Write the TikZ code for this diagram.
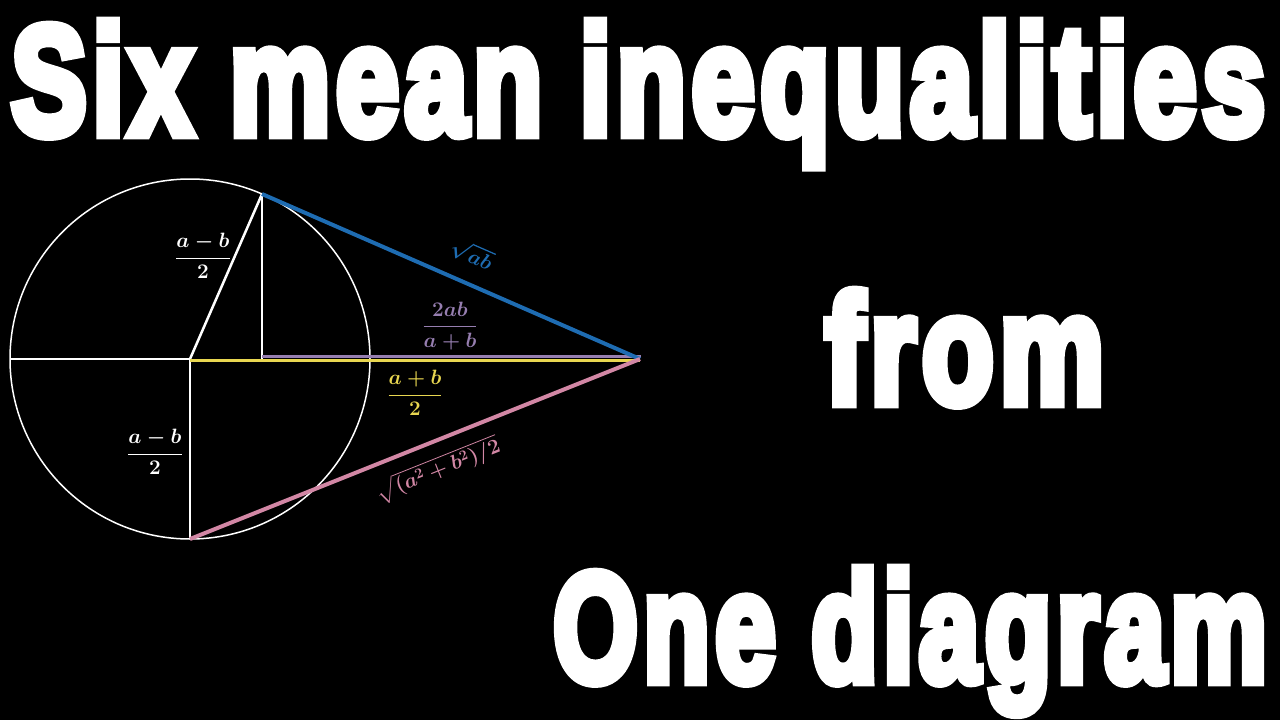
\documentclass[tikz,border=0pt]{standalone}
\usepackage{fontspec}
\usepackage{amsmath}
\usepackage{graphicx}
\newfontfamily\impactfont{Liberation Sans Bold}[FakeBold=7,LetterSpace=5]
\definecolor{geoblue}{RGB}{30,108,178}
\definecolor{geopurple}{RGB}{150,126,176}
\definecolor{geoyellow}{RGB}{232,214,80}
\definecolor{geopink}{RGB}{210,135,165}
\begin{document}
\begin{tikzpicture}[x=1pt,y=-1pt,
  titletext/.style={inner sep=0pt, text=white},
  mathlbl/.style={inner sep=0pt, font=\fontsize{20}{24}\selectfont\boldmath},
  whiteline/.style={draw=white, line width=2.5pt},
  colline/.style={line width=4pt}]
\fill[black] (0,0) rectangle (1280,720);
\useasboundingbox (0,0) rectangle (1280,720);

% titles
\node[titletext, anchor=base west] (title) at (11,134)
  {\resizebox{1254pt}{112pt}{\impactfont\fontsize{100}{100}\selectfont Six mean inequalities}};
\node[titletext, anchor=base west] (from) at (825,403)
  {\resizebox{279pt}{112pt}{\impactfont\fontsize{100}{100}\selectfont from}};
\node[titletext, anchor=base west] (one) at (553,681)
  {\resizebox{714pt}{112pt}{\impactfont\fontsize{100}{100}\selectfont One diagram}};

% geometry
\coordinate (C) at (190,359);
\coordinate (L) at (10,359);
\coordinate (T) at (262,194);
\coordinate (F) at (262,359);
\coordinate (Fp) at (262,356.5);
\coordinate (P) at (640,359);
\coordinate (Pp) at (641,356.5);
\coordinate (Py) at (640,360.5);
\coordinate (Cy) at (190,360.5);
\coordinate (B) at (190,539);

\draw[white, line width=1.5pt] (C) circle[radius=180];
\draw[whiteline] (L) -- (C);
\draw[whiteline] (C) -- (T);
\draw[whiteline] (T) -- (F);
\draw[whiteline] (C) -- (B);
\draw[geoyellow, line width=3pt] (Cy) -- (Py);
\draw[geopurple, line width=3.5pt] (Fp) -- (Pp);
\draw[geoblue, colline] (T) -- (P);
\draw[geopink, colline] (B) -- (P);

% labels
\node[mathlbl, text=white] (amb1) at (203,256) {$\dfrac{a-b}{2}$};
\node[mathlbl, text=white] (amb2) at (155,452) {$\dfrac{a-b}{2}$};
\node[mathlbl, text=geopurple] (hm) at (450,326) {$\dfrac{2ab}{a+b}$};
\node[mathlbl, text=geoyellow] (am) at (415,393) {$\dfrac{a+b}{2}$};
\node[mathlbl, text=geoblue, rotate=-23.6] (gm) at (472,254) {$\sqrt{ab}$};
\node[mathlbl, text=geopink, rotate=21.8] (qm) at (438,470) {$\sqrt{(a^2+b^2)/2}$};
\end{tikzpicture}
\end{document}
